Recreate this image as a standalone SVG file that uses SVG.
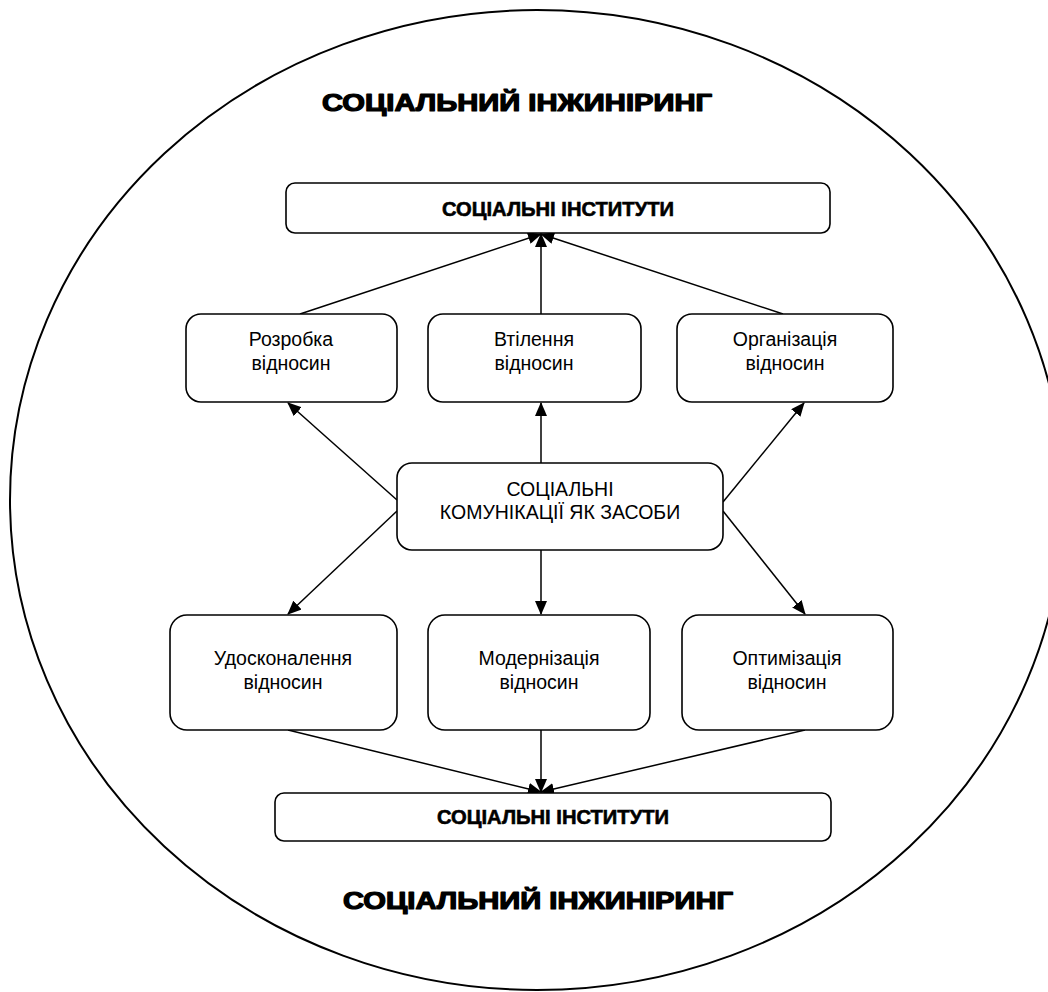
<svg xmlns="http://www.w3.org/2000/svg" width="1048" height="992" viewBox="0 0 1048 992">
<style>
.box{fill:#fff;stroke:#000;stroke-width:1.6}
.t{font-family:"Liberation Sans",Arial,sans-serif;font-size:19.5px;fill:#000;text-anchor:middle}
.tb{font-family:"Liberation Sans",Arial,sans-serif;font-size:20px;font-weight:bold;fill:#000;text-anchor:middle;stroke:#000;stroke-width:0.6}
.title{font-family:"Liberation Sans",Arial,sans-serif;font-size:23px;font-weight:bold;fill:#000;text-anchor:middle;stroke:#000;stroke-width:1.2;stroke-linejoin:round}
.c{stroke:#000;stroke-width:1.5;fill:none;marker-end:url(#ah)}
</style>
<defs>
<marker id="ah" markerUnits="userSpaceOnUse" markerWidth="14" markerHeight="12" refX="13" refY="6" orient="auto">
<path d="M0,0 L14,6 L0,12 Z" fill="#000"/>
</marker>
</defs>
<rect width="1048" height="992" fill="#fff"/>
<ellipse id="circle" cx="537" cy="500" rx="527" ry="490" fill="none" stroke="#000" stroke-width="2"/>
<g id="title-top"><text class="title" x="517" y="111" textLength="390" lengthAdjust="spacingAndGlyphs">СОЦІАЛЬНИЙ ІНЖИНІРИНГ</text></g>
<g id="title-bottom"><text class="title" x="538" y="909" textLength="390" lengthAdjust="spacingAndGlyphs">СОЦІАЛЬНИЙ ІНЖИНІРИНГ</text></g>
<g id="connectors">
<line class="c" x1="300" y1="314" x2="541" y2="234"/>
<line class="c" x1="541" y1="314" x2="541" y2="234"/>
<line class="c" x1="783" y1="314" x2="541" y2="234"/>
<line class="c" x1="541" y1="463" x2="541" y2="403"/>
<line class="c" x1="397" y1="500" x2="288" y2="403"/>
<line class="c" x1="723" y1="502" x2="804" y2="403"/>
<line class="c" x1="397" y1="511" x2="288" y2="614"/>
<line class="c" x1="541" y1="550" x2="541" y2="614"/>
<line class="c" x1="723" y1="511" x2="805" y2="614"/>
<line class="c" x1="288" y1="730" x2="541" y2="792"/>
<line class="c" x1="541" y1="730" x2="541" y2="792"/>
<line class="c" x1="805" y1="730" x2="541" y2="792"/>
</g>
<g id="inst-top"><rect class="box" x="286" y="183" width="544" height="50" rx="9"/><text class="tb" x="558" y="216" textLength="232" lengthAdjust="spacingAndGlyphs">СОЦІАЛЬНІ ІНСТИТУТИ</text></g>
<g id="rozrobka"><rect class="box" x="186" y="314" width="211" height="88" rx="15"/><text class="t" x="291" y="346">Розробка</text><text class="t" x="291" y="370">відносин</text></g>
<g id="vtilennia"><rect class="box" x="428" y="314" width="213" height="88" rx="15"/><text class="t" x="534" y="346">Втілення</text><text class="t" x="534" y="370">відносин</text></g>
<g id="orhanizatsiia"><rect class="box" x="677" y="314" width="216" height="88" rx="15"/><text class="t" x="785" y="346">Організація</text><text class="t" x="785" y="370">відносин</text></g>
<g id="komunikatsii"><rect class="box" x="397" y="463" width="326" height="87" rx="15"/><text class="t" x="560" y="496">СОЦІАЛЬНІ</text><text class="t" x="560" y="519">КОМУНІКАЦІЇ ЯК ЗАСОБИ</text></g>
<g id="udoskonalennia"><rect class="box" x="170" y="615" width="227" height="115" rx="17"/><text class="t" x="283" y="665">Удосконалення</text><text class="t" x="283" y="689">відносин</text></g>
<g id="modernizatsiia"><rect class="box" x="428" y="615" width="222" height="115" rx="17"/><text class="t" x="539" y="665">Модернізація</text><text class="t" x="539" y="689">відносин</text></g>
<g id="optymizatsiia"><rect class="box" x="682" y="615" width="211" height="115" rx="17"/><text class="t" x="787" y="665">Оптимізація</text><text class="t" x="787" y="689">відносин</text></g>
<g id="inst-bottom"><rect class="box" x="275" y="793" width="556" height="48" rx="9"/><text class="tb" x="553" y="824" textLength="232" lengthAdjust="spacingAndGlyphs">СОЦІАЛЬНІ ІНСТИТУТИ</text></g>
</svg>
